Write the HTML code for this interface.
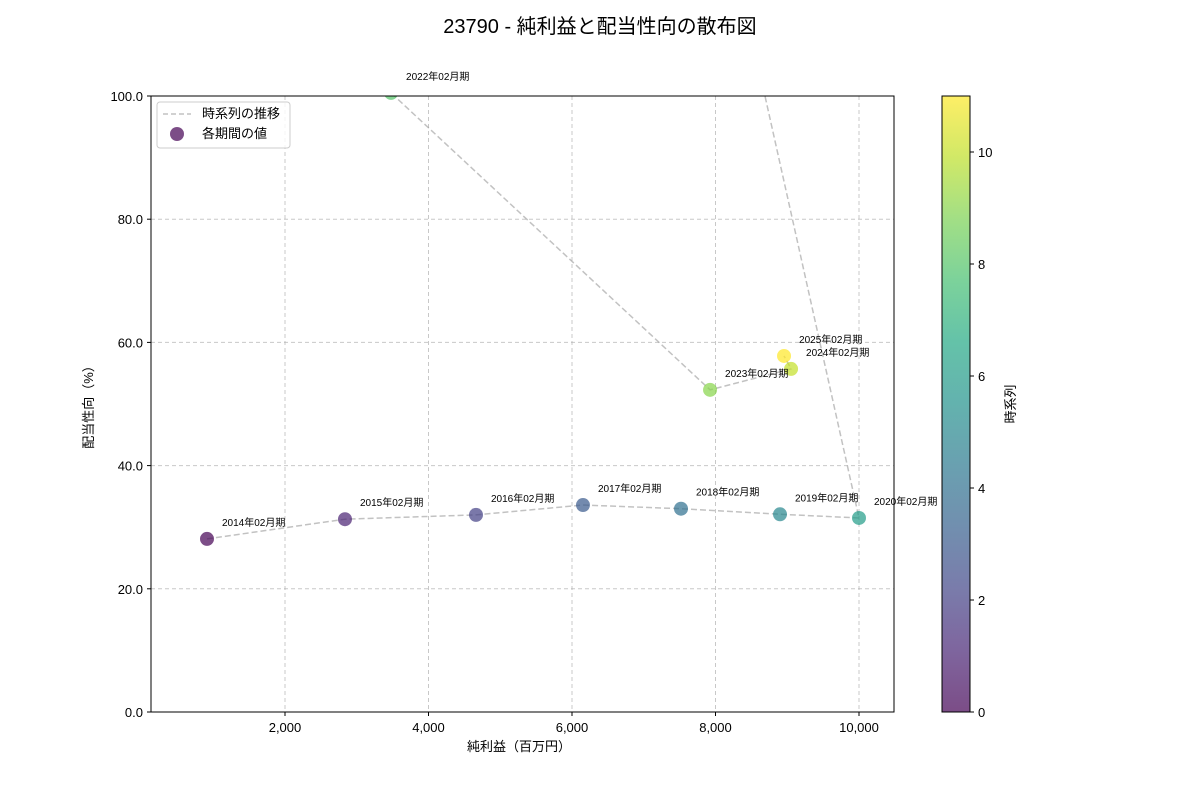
<!DOCTYPE html>
<html><head><meta charset="utf-8">
<style>
body{margin:0;background:#fff;}
svg text{font-family:"Liberation Sans","Noto Sans CJK JP",sans-serif;}
</style></head>
<body>
<svg id="chart" width="1200" height="800" xmlns="http://www.w3.org/2000/svg">
<defs>
<clipPath id="plotclip"><rect x="151" y="96" width="743" height="616"/></clipPath>
<linearGradient id="viridis" x1="0" y1="1" x2="0" y2="0">
<stop offset="0" stop-color="#440154"/><stop offset="0.1" stop-color="#482475"/>
<stop offset="0.2" stop-color="#414487"/><stop offset="0.3" stop-color="#355f8d"/>
<stop offset="0.4" stop-color="#2a788e"/><stop offset="0.5" stop-color="#21918c"/>
<stop offset="0.6" stop-color="#22a884"/><stop offset="0.7" stop-color="#44bf70"/>
<stop offset="0.8" stop-color="#7ad151"/><stop offset="0.9" stop-color="#bddf26"/>
<stop offset="1" stop-color="#fde725"/>
</linearGradient>
</defs>
<text x="600" y="33" font-size="20" text-anchor="middle">23790 - 純利益と配当性向の散布図</text>
<g id="grid"></g>
<g id="series" clip-path="url(#plotclip)"></g>
<g id="labels"></g>
<rect x="151" y="96" width="743" height="616" fill="none" stroke="#000" stroke-width="1"/>
<g id="axes"></g>
<text x="519" y="751" font-size="13" text-anchor="middle">純利益（百万円）</text>
<text transform="translate(93,404) rotate(-90)" font-size="13" text-anchor="middle">配当性向（%）</text>
<g>
<rect x="157" y="102" width="133" height="46" fill="#fff" fill-opacity="0.8" stroke="#ccc" rx="3"/>
<line x1="163" y1="114" x2="191" y2="114" stroke="#999" stroke-opacity="0.6" stroke-width="1.5" stroke-dasharray="5,3"/>
<text x="202" y="118" font-size="13">時系列の推移</text>
<circle cx="177" cy="134" r="7" fill="#440154" fill-opacity="0.7"/>
<text x="202" y="138" font-size="13">各期間の値</text>
</g>
<g>
<rect x="942" y="96" width="28" height="616" fill="url(#viridis)" fill-opacity="0.7" stroke="#000" stroke-width="1"/>
<g id="cbticks"></g>
<text transform="translate(1015,404) rotate(-90)" font-size="13" text-anchor="middle">時系列</text>
</g>
</svg>
<script>
const periods=["2014年02月期","2015年02月期","2016年02月期","2017年02月期","2018年02月期","2019年02月期","2020年02月期","2021年02月期","2022年02月期","2023年02月期","2024年02月期","2025年02月期"];
const netIncome=[913,2836,4662,6153,7519,8899,10000,5820,3478,7924,9053,8955];
const payoutRatio=[28.1,31.3,32.0,33.6,33.0,32.1,31.5,250,100.5,52.3,55.7,57.8];
const xTicks=[2000,4000,6000,8000,10000];
const yTicks=[0,20,40,60,80,100];
const cbTicks=[0,2,4,6,8,10];
const NS="http://www.w3.org/2000/svg";
const xs=v=>141.5+v*0.07175;
const ys=v=>712-v*6.16;
const cs=v=>712-v/11*616;
const viridis=["#440154","#482475","#414487","#355f8d","#2a788e","#21918c","#22a884","#44bf70","#7ad151","#bddf26","#fde725"];
function col(t){const p=t*10,i=Math.min(9,Math.floor(p)),f=p-i;const a=viridis[i],b=viridis[i+1];
const c=k=>Math.round(parseInt(a.substr(k,2),16)*(1-f)+parseInt(b.substr(k,2),16)*f);return `rgb(${c(1)},${c(3)},${c(5)})`;}
function mk(tag,attrs,parent){const e=document.createElementNS(NS,tag);for(const k in attrs)e.setAttribute(k,attrs[k]);parent.appendChild(e);return e;}
const grid=document.getElementById('grid'),axes=document.getElementById('axes');
xTicks.forEach(t=>{const x=xs(t);
const g=mk('line',{x1:x,x2:x,y1:96,y2:712,stroke:'#b0b0b0','stroke-opacity':0.7,'stroke-dasharray':'4,3'},grid);


mk('line',{x1:x,x2:x,y1:712,y2:716,stroke:'#000'},axes);
const l=mk('text',{x:x,y:732,'font-size':13,'text-anchor':'middle'},axes);l.textContent=t.toLocaleString('en-US');

});
yTicks.forEach(t=>{const y=ys(t);
const g=mk('line',{x1:151,x2:894,y1:y,y2:y,stroke:'#b0b0b0','stroke-opacity':0.7,'stroke-dasharray':'4,3'},grid);


mk('line',{x1:147,x2:151,y1:y,y2:y,stroke:'#000'},axes);
const l=mk('text',{x:143,y:y+5,'font-size':13,'text-anchor':'end'},axes);l.textContent=t.toFixed(1);

});
const cbt=document.getElementById('cbticks');
cbTicks.forEach(t=>{const y=cs(t);mk('line',{x1:970,x2:974,y1:y,y2:y,stroke:'#000'},cbt);
const l=mk('text',{x:978,y:y+5,'font-size':13},cbt);l.textContent=t;

});
const series=document.getElementById('series'),labels=document.getElementById('labels');
const pl=mk('polyline',{points:netIncome.map((v,i)=>xs(v)+','+ys(payoutRatio[i])).join(' '),fill:'none',stroke:'#999','stroke-opacity':0.6,'stroke-width':1.5,'stroke-dasharray':'6,3'},series);


netIncome.forEach((v,i)=>{const x=xs(v),y=ys(payoutRatio[i]);
const c=mk('circle',{cx:x,cy:y,r:7,fill:col(i/11),'fill-opacity':0.7},series);


if(y>60&&y<712){const t=mk('text',{x:x+15,y:y-13,'font-size':10},labels);t.textContent=periods[i];

}});
</script>
</body></html>
